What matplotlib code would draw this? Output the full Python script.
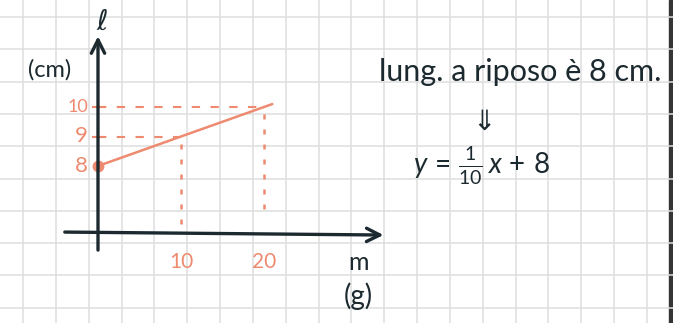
import numpy as np
import matplotlib
matplotlib.use('Agg')
import matplotlib.pyplot as plt

# line l = m/10 + 8 (rest length 8 cm)
slope = 1 / 10
rest_length = 8
m_line = np.array([0, 21])
l_line = slope * m_line + rest_length

m_ticks = [10, 20]
l_ticks = [8, 9, 10]
m_guides = [10, 20]          # vertical dashed guides
l_guides = [9, 10]           # horizontal dashed guides
m_guide_bottom = [5.76, 6.45]

INK = '#1c2a30'
RED = '#ee8a70'
GRID = '#dedede'

plt.rcParams['mathtext.fontset'] = 'custom'
plt.rcParams['mathtext.rm'] = 'Lato'
plt.rcParams['mathtext.it'] = 'Lato:italic'

W, H = 673, 323
fig = plt.figure(figsize=(W / 100, H / 100), dpi=100)

# squared paper in pixel units
bg = fig.add_axes([0, 0, 1, 1])
bg.set_xlim(0, W)
bg.set_ylim(H, 0)
bg.axis('off')
for x in np.arange(23, 660, 32.84):
    bg.axvline(x, color=GRID, lw=1.1)
for y in np.arange(17, H, 32.3):
    bg.axhline(y, color=GRID, lw=1.1)
bg.axvspan(669, W, color='#353535')

# graph axes: 8.3 px per gram, 29.5 px per cm, origin of the drawing at (98, 166)
ax = fig.add_axes([0, 0, 1, 1])
ax.patch.set_alpha(0)
ax.axis('off')
px_m, px_l = 8.3, 29.5
x0, y0 = 98, 166
ax.set_xlim(-x0 / px_m, (W - x0) / px_m)
ax.set_ylim(rest_length - (H - y0) / px_l, rest_length + y0 / px_l)

l_axis = 5.76
arrow = dict(arrowstyle='->', color=INK, lw=2.4, mutation_scale=24, shrinkA=0, shrinkB=0)
ax.annotate('', xy=(0, 12.4), xytext=(0, 5.15), arrowprops=arrow)
ax.annotate('', xy=(34.4, l_axis - 0.1), xytext=(-4, l_axis), arrowprops=arrow)

# dashed guides
for m in m_guides:
    top = slope * m + rest_length
    bottom = m_guide_bottom[m_guides.index(m)]
    ax.plot([m, m], [top - 0.25, bottom], color=RED, lw=1.8, ls=(0, (2, 4)))
for l in l_guides:
    m_end = (l - rest_length) / slope
    ax.plot([0, m_end], [l, l], color=RED, lw=1.5, ls=(0, (4, 5)))
    ax.plot([-0.6, 0.6], [l, l], color=RED, lw=1.5)

ax.plot(m_line, l_line, color=RED, lw=1.8, solid_capstyle='round')
ax.plot([0], [rest_length], 'o', color=RED, ms=7.5)

hand = dict(family='Lato')
for l in l_ticks:
    ax.text(-1.2, l, str(l), color=RED, ha='right', va='center',
            fontsize=16 if l != 10 else 13, **hand)
for m in m_ticks:
    ax.text(m, 4.75, str(m), color=RED, ha='center', va='center', fontsize=15, **hand)

fig.text(102 / W, 1 - 22 / H, 'ℓ', color=INK, ha='center', va='center', fontsize=20)
fig.text(50 / W, 1 - 70 / H, '(cm)', color=INK, ha='center', va='center', fontsize=17, **hand)
fig.text(358 / W, 1 - 263 / H, 'm', color=INK, ha='center', va='center', fontsize=18, **hand)
fig.text(358 / W, 1 - 296 / H, '(g)', color=INK, ha='center', va='center', fontsize=20, **hand)

fig.text(520 / W, 1 - 72 / H, 'lung. a riposo è 8 cm.', color=INK, ha='center',
         va='center', fontsize=22, **hand)
fig.text(484 / W, 1 - 122 / H, '⇓', color=INK, ha='center', va='center', fontsize=20)
fig.text(481 / W, 1 - 166 / H, r'$y\,=\,\frac{1}{10}\,x\,+\,8$', color=INK, ha='center',
         va='center', fontsize=20)

fig.savefig('out.png', dpi=100)
